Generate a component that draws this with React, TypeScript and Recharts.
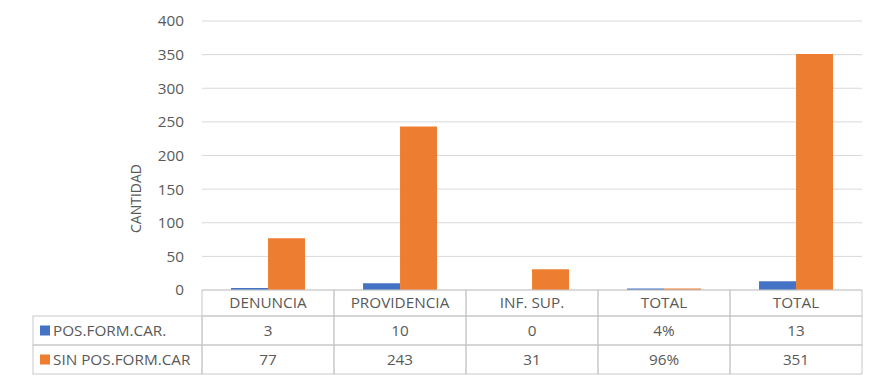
import React from "react";
import { BarChart, Bar, XAxis, YAxis, CartesianGrid } from "recharts";

const categories = ["DENUNCIA", "PROVIDENCIA", "INF. SUP.", "TOTAL", "TOTAL"];
const posValues = [3, 10, 0, 0.04, 13];
const sinValues = [77, 243, 31, 0.96, 351];
const posLabels = ["3", "10", "0", "4%", "13"];
const sinLabels = ["77", "243", "31", "96%", "351"];
const seriesNames = ["POS.FORM.CAR.", "SIN POS.FORM.CAR"];
const yTicks = [0, 50, 100, 150, 200, 250, 300, 350, 400];

const W = 884;
const H = 386;
const M = { top: 21, right: 22, left: 102, bottom: 10 };
const Y_W = 100;
const X_H = 86;
const BLUE = "#4472C4";
const ORANGE = "#ED7D31";
const TXT = "#595959";
const BORDER = "#c8c8c8";
const FONT = "'Open Sans', 'Liberation Sans', sans-serif";
const FS = 15.3;

const data = categories.map((c, i) => ({
  key: i,
  name: c,
  pos: posValues[i],
  sin: sinValues[i],
}));

const colW = (W - M.left - M.right - Y_W) / categories.length;
const rowHs = [26, 29, 29];
const labelColW = 169;

const TableTick = (props: any) => {
  const { x, y, payload } = props;
  const i = payload.index;
  const x0 = x - colW / 2;
  const rows = [categories[i], posLabels[i], sinLabels[i]];
  let cy = y;
  const els: any[] = [];
  rows.forEach((r, ri) => {
    const h = rowHs[ri];
    els.push(
      <rect key={"c" + ri} x={x0} y={cy} width={colW} height={h} fill="none" stroke={BORDER} strokeWidth={1} />
    );
    els.push(
      <text key={"t" + ri} x={x} y={cy + h / 2 + 1} textAnchor="middle" dominantBaseline="middle" fill={TXT} fontSize={FS} fontFamily={FONT}>
        {r}
      </text>
    );
    cy += h;
  });
  if (i === 0) {
    let ly = y + rowHs[0];
    [0, 1].forEach((si) => {
      const h = rowHs[si + 1];
      const lx = x0 - labelColW;
      els.push(
        <rect key={"l" + si} x={lx} y={ly} width={labelColW} height={h} fill="none" stroke={BORDER} strokeWidth={1} />
      );
      els.push(
        <rect key={"s" + si} x={lx + 7} y={ly + h / 2 - 5} width={10} height={10} fill={si === 0 ? BLUE : ORANGE} />
      );
      els.push(
        <text key={"lt" + si} x={lx + 20} y={ly + h / 2 + 1} dominantBaseline="middle" fill={TXT} fontSize={FS} fontFamily={FONT}>
          {seriesNames[si]}
        </text>
      );
      ly += h;
    });
  }
  return <g>{els}</g>;
};

const YLabel = (props: any) => {
  const { viewBox } = props;
  const cx = viewBox.x + 35;
  const cy = viewBox.y + viewBox.height / 2 + 43;
  return (
    <text x={cx} y={cy} transform={`rotate(-90 ${cx} ${cy})`} textAnchor="middle" dominantBaseline="middle" fill={TXT} fontSize={14} fontFamily={FONT}>
      CANTIDAD
    </text>
  );
};

export default function App() {
  return (
    <div style={{ position: "absolute", left: 0, top: 0, width: W, height: H, background: "#fff" }}>
      <BarChart width={W} height={H} data={data} margin={M} barCategoryGap="22%" barGap={0}>
        <CartesianGrid vertical={false} stroke="#d9d9d9" />
        <XAxis
          dataKey="key"
          height={X_H}
          tickSize={0}
          tickMargin={0}
          tickLine={false}
          axisLine={false}
          interval={0}
          tick={<TableTick />}
        />
        <YAxis
          width={Y_W}
          domain={[0, 400]}
          ticks={yTicks}
          tickSize={0}
          tickMargin={18}
          axisLine={false}
          tickLine={false}
          tick={{ fill: TXT, fontSize: FS, fontFamily: FONT }}
          label={<YLabel />}
        />
        <Bar dataKey="pos" fill={BLUE} isAnimationActive={false} minPointSize={(v: number) => (v > 0 ? 1.5 : 0)} />
        <Bar dataKey="sin" fill={ORANGE} isAnimationActive={false} minPointSize={(v: number) => (v > 0 ? 1.5 : 0)} />
      </BarChart>
    </div>
  );
}
